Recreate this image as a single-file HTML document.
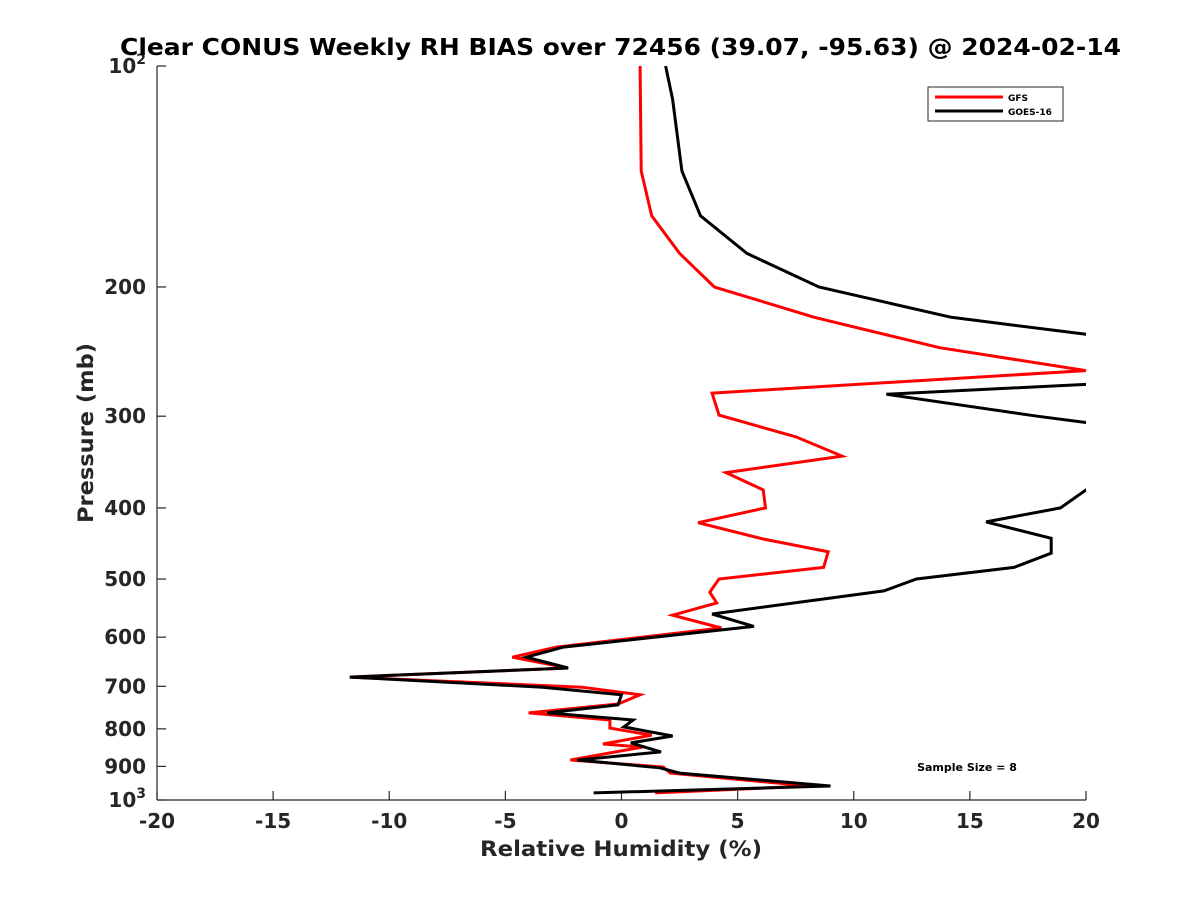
<!DOCTYPE html>
<html><head><meta charset="utf-8"><style>
body{margin:0;background:#fff;}
svg text{font-family:"DejaVu Sans","Liberation Sans",sans-serif;font-weight:bold;fill:#262626;}
</style></head><body>
<svg id="chart" width="1200" height="900" xmlns="http://www.w3.org/2000/svg">
<defs><clipPath id="clip"><rect x="157" y="66" width="929" height="734"/></clipPath></defs>
<g id="axes"></g>
<g id="series" clip-path="url(#clip)"></g>
<text x="120" y="55" font-size="23" textLength="1001" lengthAdjust="spacingAndGlyphs" style="fill:#000">Clear CONUS Weekly RH BIAS over 72456 (39.07, -95.63) @ 2024-02-14</text>
<text x="480" y="856" font-size="21" textLength="282" lengthAdjust="spacingAndGlyphs">Relative Humidity (%)</text>
<text transform="translate(93,523) rotate(-90)" font-size="21" textLength="180" lengthAdjust="spacingAndGlyphs">Pressure (mb)</text>
<text x="967" y="771" text-anchor="middle" font-size="11" style="fill:#000">Sample Size = 8</text>
<g>
<rect x="928" y="87" width="135" height="34" fill="#fff" stroke="#262626" stroke-width="1"/>
<line x1="935" y1="97" x2="1003" y2="97" stroke="#f00" stroke-width="3"/>
<text x="1008" y="101" font-size="9" style="fill:#000">GFS</text>
<line x1="935" y1="111" x2="1003" y2="111" stroke="#000" stroke-width="3"/>
<text x="1008" y="115" font-size="9" style="fill:#000">GOES-16</text>
</g>
</svg>
<script>
const xTicks=[-20,-15,-10,-5,0,5,10,15,20];
const yTicks=[100,200,300,400,500,600,700,800,900,1000];
const yTickLabels=["10^2","200","300","400","500","600","700","800","900","10^3"];
const gfsP=[100,139,160,180,200,220,242,260,279,299,320,340,358,378,400,419,441,459,482,500,521,539,560,583,619,639,661,680,702,719,740,761,778,798,816,839,847,882,902,919,957,978];
const gfsV=[0.8,0.85,1.3,2.5,4.0,8.3,13.7,20.0,3.9,4.2,7.5,9.5,4.5,6.1,6.2,3.3,6.1,8.9,8.7,4.2,3.8,4.1,2.2,4.3,-2.8,-4.7,-2.3,-11.7,-1.7,0.8,-0.15,-4.0,-0.5,-0.5,1.3,-0.8,0.9,-2.2,1.8,2.1,8.1,1.45];
const goesP=[100,111,139,160,180,200,220,232,260,271,280,300,306,340,378,400,418,440,461,482,500,519,558,580,619,639,661,680,702,719,742,761,778,795,818,836,860,882,904,919,957,978];
const goesV=[1.9,2.2,2.6,3.4,5.4,8.5,14.2,20,30,20.5,11.4,17.9,20,30,20,18.9,15.7,18.5,18.5,16.9,12.7,11.3,3.9,5.7,-2.5,-4.1,-2.3,-11.7,-3.4,0.0,-0.15,-3.2,0.5,0.1,2.2,0.4,1.7,-1.9,1.65,2.5,9.0,-1.2];
const X0=157,X1=1086,Y0=66,Y1=800;
const xs=v=>X0+(v+20)/40*(X1-X0);
const ys=p=>Y0+Math.log10(p/100)*(Y1-Y0);
const NS="http://www.w3.org/2000/svg";
const axes=document.getElementById('axes'),ser=document.getElementById('series');
function mk(tag,attrs,parent){const e=document.createElementNS(NS,tag);for(const k in attrs)e.setAttribute(k,attrs[k]);parent.appendChild(e);return e;}
let e=mk('line',{x1:X0,y1:Y1,x2:X1,y2:Y1,stroke:'#262626','stroke-width':1.2},axes);


e=mk('line',{x1:X0,y1:Y0,x2:X0,y2:Y1,stroke:'#262626','stroke-width':1.2},axes);


xTicks.forEach(v=>{
 const x=xs(v);
 const t=mk('line',{x1:x,y1:Y1,x2:x,y2:Y1-9,stroke:'#262626','stroke-width':1.2},axes);
 
 
 const l=mk('text',{x:x,y:Y1+28,'text-anchor':'middle','font-size':20},axes);
 l.textContent=String(v);
 
 
});
yTicks.forEach((p,i)=>{
 const y=ys(p);
 const t=mk('line',{x1:X0,y1:y,x2:X0+9,y2:y,stroke:'#262626','stroke-width':1.2},axes);
 
 
 const lab=yTickLabels[i];
 const l=mk('text',{x:X0-11,y:y+7,'text-anchor':'end','font-size':20},axes);
 
 
 if(lab.indexOf('^')>=0){
  const parts=lab.split('^');
  const a=mk('tspan',{},l);a.textContent=parts[0];
  const b=mk('tspan',{dy:-9,'font-size':14},l);b.textContent=parts[1];
 } else l.textContent=lab;
});
function line(P,V,color,name){
 const pts=P.map((p,i)=>xs(V[i]).toFixed(1)+','+ys(p).toFixed(1)).join(' ');
 const pl=mk('polyline',{points:pts,fill:'none',stroke:color,'stroke-width':3,'stroke-linejoin':'miter'},ser);
 
 
}
line(gfsP,gfsV,'#f00','gfs-line');
line(goesP,goesV,'#000','goes16-line');
</script>
</body></html>
